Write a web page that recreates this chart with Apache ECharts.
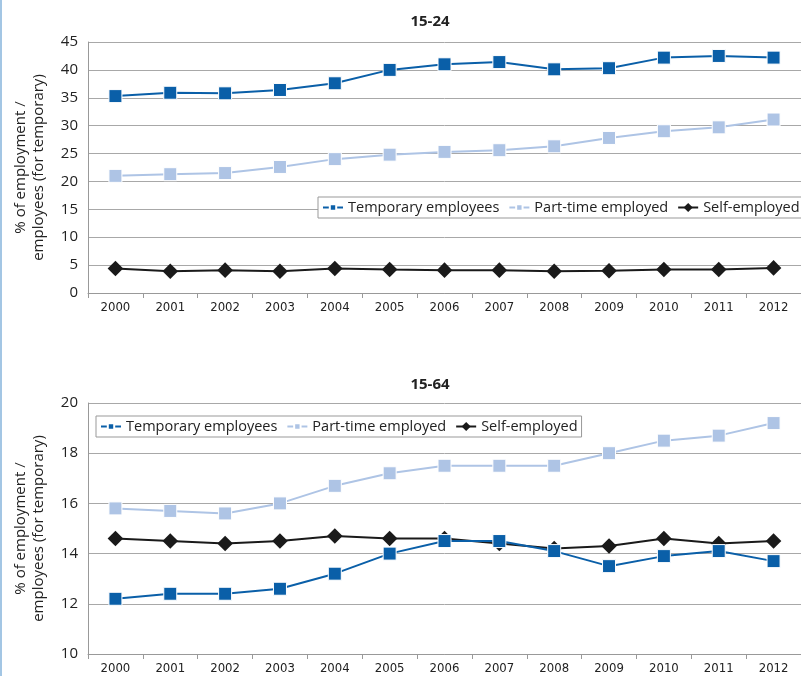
<!DOCTYPE html>
<html>
<head>
<meta charset="utf-8">
<script src="https://cdn.jsdelivr.net/npm/echarts@6/dist/echarts.min.js"></script>
<style>
  html, body { margin: 0; padding: 0; background: #fff; }
  #chart { width: 801px; height: 676px; }
</style>
</head>
<body>
<div id="chart"></div>
<script>
const years = ['2000', '2001', '2002', '2003', '2004', '2005', '2006', '2007', '2008', '2009', '2010', '2011', '2012'];
const seriesNames = ['Temporary employees', 'Part-time employed', 'Self-employed'];

// 15-24
const temp1524 = [35.3, 35.9, 35.8, 36.4, 37.6, 40.0, 41.0, 41.4, 40.1, 40.3, 42.2, 42.5, 42.2];
const part1524 = [21.0, 21.3, 21.5, 22.6, 24.0, 24.8, 25.3, 25.6, 26.3, 27.8, 29.0, 29.7, 31.1];
const self1524 = [4.4, 3.9, 4.1, 3.9, 4.4, 4.2, 4.1, 4.1, 3.9, 4.0, 4.2, 4.2, 4.5];

// 15-64
const temp1564 = [12.2, 12.4, 12.4, 12.6, 13.2, 14.0, 14.5, 14.5, 14.1, 13.5, 13.9, 14.1, 13.7];
const part1564 = [15.8, 15.7, 15.6, 16.0, 16.7, 17.2, 17.5, 17.5, 17.5, 18.0, 18.5, 18.7, 19.2];
const self1564 = [14.6, 14.5, 14.4, 14.5, 14.7, 14.6, 14.6, 14.4, 14.2, 14.3, 14.6, 14.4, 14.5];

const colors = ['#0a5fa8', '#aec4e5', '#1a1a1a'];
const font = 'Open Sans';
const narrow = "'DejaVu Sans Condensed', 'Liberation Sans Narrow', Roboto, sans-serif";
const yName = '% of employment /\nemployees (for temporary)';

const chart = echarts.init(document.getElementById('chart'));

function xAxis(gridIndex) {
  return {
    type: 'category',
    gridIndex,
    data: years,
    boundaryGap: true,
    axisLine: { lineStyle: { color: '#999' } },
    axisTick: { show: true, length: 5, lineStyle: { color: '#999' } },
    axisLabel: { color: '#222', fontFamily: narrow, fontSize: 13, margin: 8 }
  };
}

function yAxis(gridIndex, min, max, interval) {
  return {
    type: 'value',
    gridIndex,
    min, max, interval,
    name: yName,
    nameLocation: 'middle',
    nameGap: 40,
    nameTextStyle: { color: '#222', fontFamily: font, fontSize: 15, lineHeight: 18 },
    axisLine: { show: true, lineStyle: { color: '#999' } },
    axisTick: { show: false },
    axisLabel: { color: '#222', fontFamily: font, fontSize: 15, margin: 10 },
    splitLine: { lineStyle: { color: '#a8a8a8', width: 1 } }
  };
}

function line(name, data, idx, color) {
  const isSelf = name === 'Self-employed';
  return {
    name,
    type: 'line',
    xAxisIndex: idx,
    yAxisIndex: idx,
    data,
    symbol: 'rect',
    symbolRotate: isSelf ? 45 : 0,
    symbolSize: isSelf ? 11 : 13,
    lineStyle: { color, width: 2 },
    itemStyle: { color, borderColor: isSelf ? color : '#fff', borderWidth: isSelf ? 0 : 1 },
    z: isSelf ? 2 : 3
  };
}

const legendCommon = {
  data: seriesNames,
  orient: 'horizontal',
  width: 760,
  backgroundColor: '#fff',
  borderColor: '#999',
  borderWidth: 1,
  borderRadius: 0,
  padding: [3, 4, 3, 4],
  itemGap: 9,
  itemWidth: 20,
  itemHeight: 8,
  textStyle: { color: '#222', fontFamily: font, fontSize: 14.5 }
};

const option = {
  animation: false,
  title: [
    { text: '15-24', left: 425, top: 9, textAlign: 'center', textStyle: { fontFamily: font, fontSize: 15, fontWeight: 'bold', color: '#222' } },
    { text: '15-64', left: 425, top: 372, textAlign: 'center', textStyle: { fontFamily: font, fontSize: 15, fontWeight: 'bold', color: '#222' } }
  ],
  grid: [
    { left: 88, right: -8, top: 42, height: 251 },
    { left: 88, right: -8, top: 403, height: 251 }
  ],
  legend: [
    Object.assign({}, legendCommon, { left: 318, top: 197 }),
    Object.assign({}, legendCommon, { left: 96, top: 416 })
  ],
  xAxis: [xAxis(0), xAxis(1)],
  yAxis: [yAxis(0, 0, 45, 5), yAxis(1, 10, 20, 2)],
  series: [
    line(seriesNames[0], temp1524, 0, colors[0]),
    line(seriesNames[1], part1524, 0, colors[1]),
    line(seriesNames[2], self1524, 0, colors[2]),
    line(seriesNames[0], temp1564, 1, colors[0]),
    line(seriesNames[1], part1564, 1, colors[1]),
    line(seriesNames[2], self1564, 1, colors[2])
  ],
  graphic: [
    { type: 'rect', left: 0, top: 0, shape: { width: 2, height: 676 }, style: { fill: '#a3c6e4' } }
  ]
};

chart.setOption(option);
</script>
</body>
</html>
